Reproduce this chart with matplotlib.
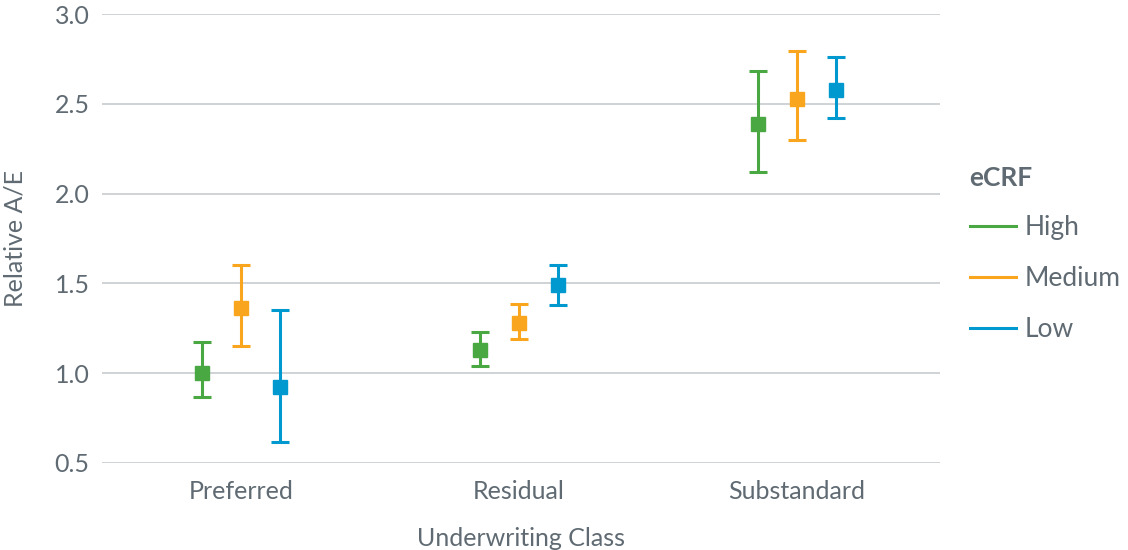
import matplotlib
matplotlib.use("Agg")
import matplotlib.pyplot as plt
from matplotlib.lines import Line2D
import numpy as np

plt.rcParams['font.family'] = ['Lato', 'DejaVu Sans']

classes = ["Preferred", "Residual", "Substandard"]
levels = ["High", "Medium", "Low"]
colors = ["#4aa843", "#f9a51e", "#0099cf"]

# point estimates and interval bounds, per eCRF level, per underwriting class
estimate = {
    "High":   [1.00, 1.13, 2.39],
    "Medium": [1.36, 1.28, 2.53],
    "Low":    [0.92, 1.49, 2.58],
}
lower = {
    "High":   [0.866, 1.037, 2.123],
    "Medium": [1.149, 1.188, 2.297],
    "Low":    [0.614, 1.377, 2.424],
}
upper = {
    "High":   [1.176, 1.227, 2.685],
    "Medium": [1.605, 1.384, 2.797],
    "Low":    [1.349, 1.605, 2.763],
}

y_ticks = [0.5, 1.0, 1.5, 2.0, 2.5, 3.0]
text_color = "#5f6a72"
grid_color = "#c4c8cc"

fig = plt.figure(figsize=(11.28, 5.5), dpi=100)
ax = fig.add_axes([102 / 1128, 1 - 463 / 550, (940 - 102) / 1128, (463 - 14) / 550])

x = np.arange(len(classes))
offsets = [-0.14, 0.0, 0.14]
for lvl, col, off in zip(levels, colors, offsets):
    est = np.array(estimate[lvl])
    lo = np.array(lower[lvl])
    hi = np.array(upper[lvl])
    ax.errorbar(x + off, est, yerr=[est - lo, hi - est], fmt="s", color=col,
                ecolor=col, elinewidth=2.2, capsize=6.5, capthick=2.2,
                markersize=10, zorder=3)

ax.set_xlim(-0.5, 2.514)
ax.set_ylim(0.499, 3.001)
ax.set_yticks(y_ticks)
ax.set_yticklabels([f"{v:.1f}" for v in y_ticks])
ax.set_xticks(x)
ax.set_xticklabels(classes)
ax.grid(axis="y", color=grid_color, linewidth=1.1)
ax.set_axisbelow(True)
for s in ax.spines.values():
    s.set_visible(False)
ax.tick_params(axis="y", length=0, pad=9, labelsize=18, labelcolor=text_color)
ax.tick_params(axis="x", length=0, pad=12, labelsize=18, labelcolor=text_color)

ax.set_xlabel("Underwriting Class", fontsize=18, color=text_color, labelpad=17.5)
ax.set_ylabel("Relative A/E", fontsize=18, color=text_color, labelpad=20)

handles = [Line2D([0], [0], color=c, linewidth=2.2) for c in colors]
leg = fig.legend(handles, levels, title="eCRF", loc="upper left",
                 bbox_to_anchor=(959 / 1128, 1 - 155 / 550), frameon=False,
                 fontsize=19, title_fontsize=19, handlelength=1.75,
                 handletextpad=0.32, labelspacing=0.98, alignment="left",
                 borderaxespad=0, borderpad=0.4)
leg.get_title().set_fontweight("bold")
leg.get_title().set_color(text_color)
for t in leg.get_texts():
    t.set_color(text_color)

fig.savefig("out.png", dpi=100)
